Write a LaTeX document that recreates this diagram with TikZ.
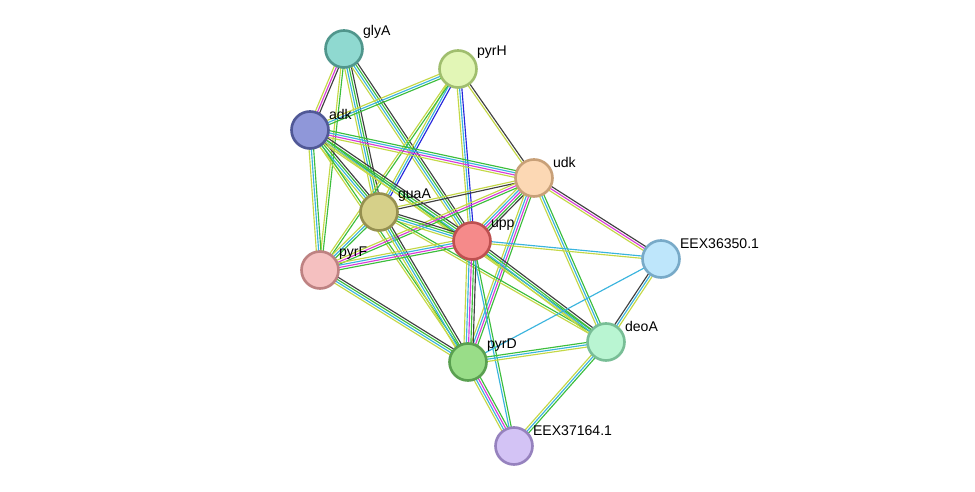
\documentclass[tikz,border=0pt]{standalone}
\usepackage{fontspec}
\setmainfont{Liberation Sans}
\usetikzlibrary{calc}
\definecolor{G}{HTML}{3CBE3C}\definecolor{Y}{HTML}{C4D846}\definecolor{C}{HTML}{3AB4DE}
\definecolor{M}{HTML}{D83CD8}\definecolor{K}{HTML}{404040}\definecolor{B}{HTML}{2626DC}
\newcommand\ed[3]{%
 \foreach \c [count=\i] in {#3} {\pgfmathsetmacro\o{(\i-(\fnum+1)/2)*1.3}%
 \draw[\c, line width=0.65pt] ($(#1)!\o pt!90:(#2)$) -- ($(#2)!\o pt!-90:(#1)$);}}
\newcommand\edg[4]{\def\fnum{#4}\ed{#1}{#2}{#3}}
\tikzset{prot/.style={circle, draw, line width=1.5pt, minimum size=0.74cm, inner sep=0pt},
 lab/.style={font=\fontsize{8}{9}\selectfont, anchor=south west, inner sep=1pt}}
\begin{document}
\begin{tikzpicture}[x=0.02cm,y=-0.02cm]
\useasboundingbox (0,0) rectangle (975,492);
\fill[white] (0,0) rectangle (975,492);
\coordinate (glyA) at (344,49); \coordinate (pyrH) at (458,69); \coordinate (adk) at (310,130);
\coordinate (udk) at (534,178); \coordinate (guaA) at (379,212); \coordinate (upp) at (472,241);
\coordinate (pyrF) at (320,270); \coordinate (e1) at (661,259); \coordinate (deoA) at (606,342);
\coordinate (pyrD) at (468,362); \coordinate (e2) at (514,446);
\edg{glyA}{adk}{Y,M,K}{3}
\edg{glyA}{guaA}{Y,C,G,K}{4}
\edg{glyA}{upp}{Y,C,G,K}{4}
\edg{glyA}{pyrF}{Y,G}{2}
\edg{pyrH}{adk}{Y,C,G}{3}
\edg{pyrH}{guaA}{Y,C,B}{3}
\edg{pyrH}{upp}{Y,C,B}{3}
\edg{pyrH}{udk}{Y,K}{2}
\edg{pyrH}{pyrF}{Y,G}{2}
\edg{adk}{guaA}{Y,C,G,K}{4}
\edg{adk}{upp}{Y,C,G,K}{4}
\edg{adk}{udk}{Y,M,C,G}{4}
\edg{adk}{pyrF}{Y,C,G}{3}
\edg{adk}{pyrD}{Y,G}{2}
\edg{adk}{deoA}{Y,G}{2}
\edg{udk}{guaA}{Y,K}{2}
\edg{udk}{upp}{Y,C,M,G,K}{5}
\edg{udk}{pyrF}{Y,M,G}{3}
\edg{udk}{pyrD}{Y,C,M,G}{4}
\edg{udk}{deoA}{Y,C,G}{3}
\edg{udk}{e1}{Y,M,K}{3}
\edg{guaA}{upp}{Y,C,G,K}{4}
\edg{guaA}{pyrF}{Y,C,G}{3}
\edg{guaA}{pyrD}{Y,C,G,K}{4}
\edg{guaA}{deoA}{Y,G}{2}
\edg{upp}{pyrF}{Y,C,M,G}{4}
\edg{upp}{pyrD}{Y,C,M,G,K}{5}
\edg{upp}{deoA}{Y,C,G,K}{4}
\edg{upp}{e1}{Y,C}{2}
\edg{upp}{e2}{C,G}{2}
\edg{pyrF}{pyrD}{Y,C,G,K}{4}
\edg{pyrD}{deoA}{Y,C,G}{3}
\edg{pyrD}{e2}{Y,C,M,G}{4}
\edg{pyrD}{e1}{C}{1}
\edg{deoA}{e1}{Y,C,K}{3}
\edg{deoA}{e2}{Y,C,G}{3}
\node[prot, fill={rgb,255:red,143;green,217;blue,208}, draw={rgb,255:red,80;green,150;blue,140}] at (glyA) {};
\node[prot, fill={rgb,255:red,226;green,246;blue,182}, draw={rgb,255:red,160;green,190;blue,110}] at (pyrH) {};
\node[prot, fill={rgb,255:red,143;green,151;blue,217}, draw={rgb,255:red,80;green,88;blue,150}] at (adk) {};
\node[prot, fill={rgb,255:red,252;green,216;blue,180}, draw={rgb,255:red,200;green,160;blue,120}] at (udk) {};
\node[prot, fill={rgb,255:red,214;green,208;blue,137}, draw={rgb,255:red,150;green,144;blue,80}] at (guaA) {};
\node[prot, fill={rgb,255:red,245;green,138;blue,138}, draw={rgb,255:red,190;green,80;blue,80}] at (upp) {};
\node[prot, fill={rgb,255:red,245;green,192;blue,192}, draw={rgb,255:red,190;green,130;blue,130}] at (pyrF) {};
\node[prot, fill={rgb,255:red,190;green,230;blue,251}, draw={rgb,255:red,120;green,170;blue,200}] at (e1) {};
\node[prot, fill={rgb,255:red,185;green,245;blue,210}, draw={rgb,255:red,120;green,190;blue,150}] at (deoA) {};
\node[prot, fill={rgb,255:red,153;green,221;blue,136}, draw={rgb,255:red,90;green,160;blue,80}] at (pyrD) {};
\node[prot, fill={rgb,255:red,211;green,195;blue,245}, draw={rgb,255:red,150;green,130;blue,190}] at (e2) {};
\node[lab] at ($(glyA)+(17,-8)$) {glyA};
\node[lab] at ($(pyrH)+(17,-8)$) {pyrH};
\node[lab] at ($(adk)+(17,-8)$) {adk};
\node[lab] at ($(udk)+(17,-8)$) {udk};
\node[lab] at ($(guaA)+(17,-8)$) {guaA};
\node[lab] at ($(upp)+(17,-8)$) {upp};
\node[lab] at ($(pyrF)+(17,-8)$) {pyrF};
\node[lab] at ($(e1)+(17,-8)$) {EEX36350.1};
\node[lab] at ($(deoA)+(17,-8)$) {deoA};
\node[lab] at ($(pyrD)+(17,-8)$) {pyrD};
\node[lab] at ($(e2)+(17,-8)$) {EEX37164.1};
\end{tikzpicture}
\end{document}
